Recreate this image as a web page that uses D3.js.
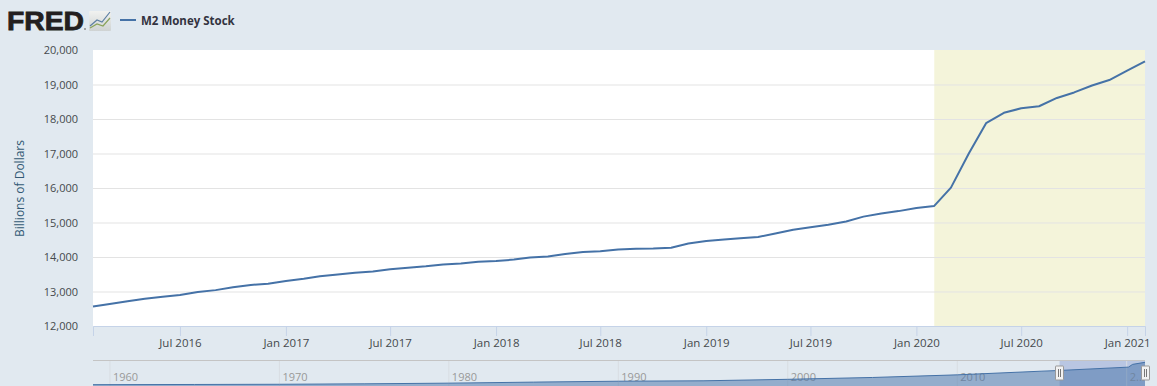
<!DOCTYPE html>
<html>
<head>
<meta charset="utf-8">
<script src="https://cdn.jsdelivr.net/npm/d3@7"></script>
<style>
  html, body { margin: 0; padding: 0; background: #e1e9f0; overflow: hidden; }
  text { font-family: "Open Sans", "DejaVu Sans", sans-serif; }
</style>
</head>
<body>
<div id="chart"></div>
<script>
// monthly values, billions of dollars
const startMonth = '2016-02-01';
const m2Values = [
  12565, 12640, 12720, 12790, 12850, 12900, 12985, 13040, 13120, 13190, 13225,
  13305, 13370, 13440, 13495, 13545, 13580, 13645, 13690, 13730, 13780, 13810, 13865,
  13885, 13925, 13985, 14015, 14085, 14145, 14170, 14215, 14240, 14245, 14270, 14390,
  14465, 14505, 14545, 14580, 14680, 14790, 14860, 14935, 15030, 15170, 15260, 15330,
  15420, 15480, 16010, 17000, 17880, 18180, 18310, 18370, 18610, 18770, 18970, 19130,
  19400, 19670
];
const yTicks = [12000, 13000, 14000, 15000, 16000, 17000, 18000, 19000, 20000];
const xTickDates = ['2016-07-01', '2017-01-01', '2017-07-01', '2018-01-01', '2018-07-01',
  '2019-01-01', '2019-07-01', '2020-01-01', '2020-07-01', '2021-01-01'];
const recession = ['2020-02-01', '2021-02-01'];
const seriesName = 'M2 Money Stock';
const yLabel = 'Billions of Dollars';

// navigator: whole series history, coarse yearly readings
const navYears = [1959, 1965, 1970, 1975, 1980, 1985, 1990, 1995, 2000, 2005, 2010, 2015, 2016, 2020.1, 2020.35, 2021.08];
const navValues = [290, 450, 630, 1020, 1600, 2500, 3280, 3640, 4920, 6520, 8790, 12000, 12565, 15480, 17880, 19670];
const navTicks = [1960, 1970, 1980, 1990, 2000, 2010, 2020];
const navTickLabels = ['1960', '1970', '1980', '1990', '2000', '2010', '2...'];
const navSelection = [2016.04, 2021.08];

const width = 1157, height = 386;
const margin = {top: 50, right: 12, bottom: 60, left: 93};
const parse = d3.utcParse('%Y-%m-%d');

const svg = d3.select('#chart').append('svg')
    .attr('width', width)
    .attr('height', height)
    .style('display', 'block');

const first = parse(startMonth);
const data = m2Values.map((v, i) => ({date: d3.utcMonth.offset(first, i), value: v}));

const xScale = d3.scaleUtc()
    .domain(d3.extent(data, d => d.date))
    .range([margin.left, width - margin.right]);

const yScale = d3.scaleLinear()
    .domain([12000, 20000])
    .range([height - margin.bottom, margin.top]);

// Plot background and recession band
svg.append('rect')
    .attr('x', margin.left)
    .attr('y', margin.top)
    .attr('width', width - margin.left - margin.right)
    .attr('height', height - margin.top - margin.bottom)
    .attr('fill', '#fff');

svg.append('rect')
    .attr('x', xScale(parse(recession[0])))
    .attr('y', margin.top)
    .attr('width', xScale(parse(recession[1])) - xScale(parse(recession[0])))
    .attr('height', height - margin.top - margin.bottom)
    .attr('fill', '#f4f4da');

// Gridlines + y labels
const yAxis = d3.axisLeft(yScale)
    .tickValues(yTicks)
    .tickSize(-(width - margin.left - margin.right))
    .tickFormat(d3.format(','));

const yAxisG = svg.append('g')
    .attr('transform', `translate(${margin.left},0)`)
    .call(yAxis);
yAxisG.select('.domain').remove();
yAxisG.selectAll('.tick line').attr('stroke', '#e3e3e3');
yAxisG.selectAll('.tick text')
    .attr('x', -15)
    .attr('fill', '#45494d')
    .style('font-size', '11px');
yAxisG.selectAll('.tick').filter(d => d === 20000 || d === 12000).select('line').remove();

// x axis
const xAxis = d3.axisBottom(xScale)
    .tickValues(xTickDates.map(parse))
    .tickSize(10)
    .tickFormat(d3.utcFormat('%b %Y'));

const xAxisG = svg.append('g')
    .attr('transform', `translate(0,${height - margin.bottom})`)
    .call(xAxis);
xAxisG.select('.domain').attr('stroke', '#c5d3e8').attr('stroke-width', 1);
xAxisG.selectAll('.tick line').attr('stroke', '#c5d3e8');
xAxisG.selectAll('.tick text')
    .attr('y', 12.5)
    .attr('fill', '#45494d')
    .style('font-size', '11.5px');

// Series line
const line = d3.line()
    .x(d => xScale(d.date))
    .y(d => yScale(d.value));

svg.append('path')
    .datum(data)
    .attr('d', line)
    .attr('fill', 'none')
    .attr('stroke', '#4572a7')
    .attr('stroke-width', 2)
    .attr('stroke-linejoin', 'round');

// y axis title
svg.append('text')
    .attr('transform', `translate(24,188.5) rotate(-90)`)
    .attr('text-anchor', 'middle')
    .attr('fill', '#335a75')
    .style('font-size', '12px')
    .text(yLabel);

// Navigator
const navTop = 360, navBottom = 386;
const navX = d3.scaleLinear()
    .domain([1959, 2021.08])
    .range([margin.left, width - margin.right]);
const navY = d3.scaleLinear()
    .domain([0, 19670])
    .range([navBottom - 1, navTop + 2.3]);
const navData = navYears.map((y, i) => ({year: y, value: navValues[i]}));

const navArea = d3.area()
    .x(d => navX(d.year))
    .y0(navBottom)
    .y1(d => navY(d.value));
const navLine = d3.line()
    .x(d => navX(d.year))
    .y(d => navY(d.value));

svg.append('rect')
    .attr('x', navX(navSelection[0]))
    .attr('y', navTop)
    .attr('width', navX(navSelection[1]) - navX(navSelection[0]))
    .attr('height', navBottom - navTop)
    .attr('fill', '#b9c6e2');

const navTick = svg.append('g').selectAll('g')
    .data(navTicks)
  .join('g')
    .attr('transform', d => `translate(${navX(d)},0)`);

navTick.append('line')
    .attr('y1', navTop)
    .attr('y2', navBottom)
    .attr('stroke', '#d8dde2');

svg.append('path')
    .datum(navData)
    .attr('d', navArea)
    .attr('fill', '#4572a7')
    .attr('fill-opacity', 0.5);

svg.append('path')
    .datum(navData)
    .attr('d', navLine)
    .attr('fill', 'none')
    .attr('stroke', '#4572a7')
    .attr('stroke-width', 1);

navTick.append('text')
    .attr('x', 3)
    .attr('y', 381)
    .attr('fill', '#999')
    .style('font-size', '11px')
    .text((d, i) => navTickLabels[i]);

svg.append('line')
    .attr('x1', margin.left)
    .attr('x2', width - margin.right)
    .attr('y1', navTop + 0.5)
    .attr('y2', navTop + 0.5)
    .attr('stroke', '#c4c4c4');

// Navigator handles
const handles = svg.append('g').selectAll('g')
    .data(navSelection)
  .join('g')
    .attr('transform', d => `translate(${Math.floor(navX(d)) + 0.5},366)`);

handles.append('rect')
    .attr('x', -4)
    .attr('width', 8)
    .attr('height', 14)
    .attr('rx', 0.5)
    .attr('fill', '#f2f2f2')
    .attr('stroke', '#999');

handles.selectAll('line')
    .data([-1, 1])
  .join('line')
    .attr('x1', d => d)
    .attr('x2', d => d)
    .attr('y1', 3)
    .attr('y2', 11)
    .attr('stroke', '#777');

// Header: logo and legend
svg.append('text')
    .attr('x', 7)
    .attr('y', 30)
    .attr('textLength', 77)
    .attr('lengthAdjust', 'spacingAndGlyphs')
    .attr('fill', '#231f20')
    .style('font-family', '"Liberation Sans", sans-serif')
    .style('font-weight', 700)
    .style('font-size', '26.5px')
    .style('stroke', '#231f20')
    .style('stroke-width', '0.8px')
    .text('FRED');

svg.append('circle')
    .attr('cx', 85)
    .attr('cy', 29)
    .attr('r', 1)
    .attr('fill', '#8a8a8a');

const logoGrad = svg.append('defs').append('linearGradient')
    .attr('id', 'logo-grad')
    .attr('x1', 0).attr('x2', 0)
    .attr('y1', 0).attr('y2', 1);
logoGrad.append('stop').attr('offset', 0).attr('stop-color', '#f1f2f0');
logoGrad.append('stop').attr('offset', 1).attr('stop-color', '#cfd3d3');

const logo = svg.append('g').attr('transform', 'translate(89,11)');
logo.append('rect')
    .attr('width', 22)
    .attr('height', 20)
    .attr('rx', 1)
    .attr('fill', 'url(#logo-grad)');
logo.append('path')
    .attr('d', 'M1,15 L8,9 L13,11 L21,1')
    .attr('fill', 'none')
    .attr('stroke', '#5d7fa3')
    .attr('stroke-width', 1.2);
logo.append('path')
    .attr('d', 'M1,17 L8,13 L14,15 L21,7')
    .attr('fill', 'none')
    .attr('stroke', '#8aa35a')
    .attr('stroke-width', 1.2);

svg.append('line')
    .attr('x1', 120)
    .attr('x2', 136)
    .attr('y1', 20)
    .attr('y2', 20)
    .attr('stroke', '#4572a7')
    .attr('stroke-width', 2);

svg.append('text')
    .attr('x', 141)
    .attr('y', 25)
    .attr('fill', '#333340')
    .style('font-size', '11.5px')
    .style('font-weight', 700)
    .text(seriesName);
</script>
</body>
</html>
